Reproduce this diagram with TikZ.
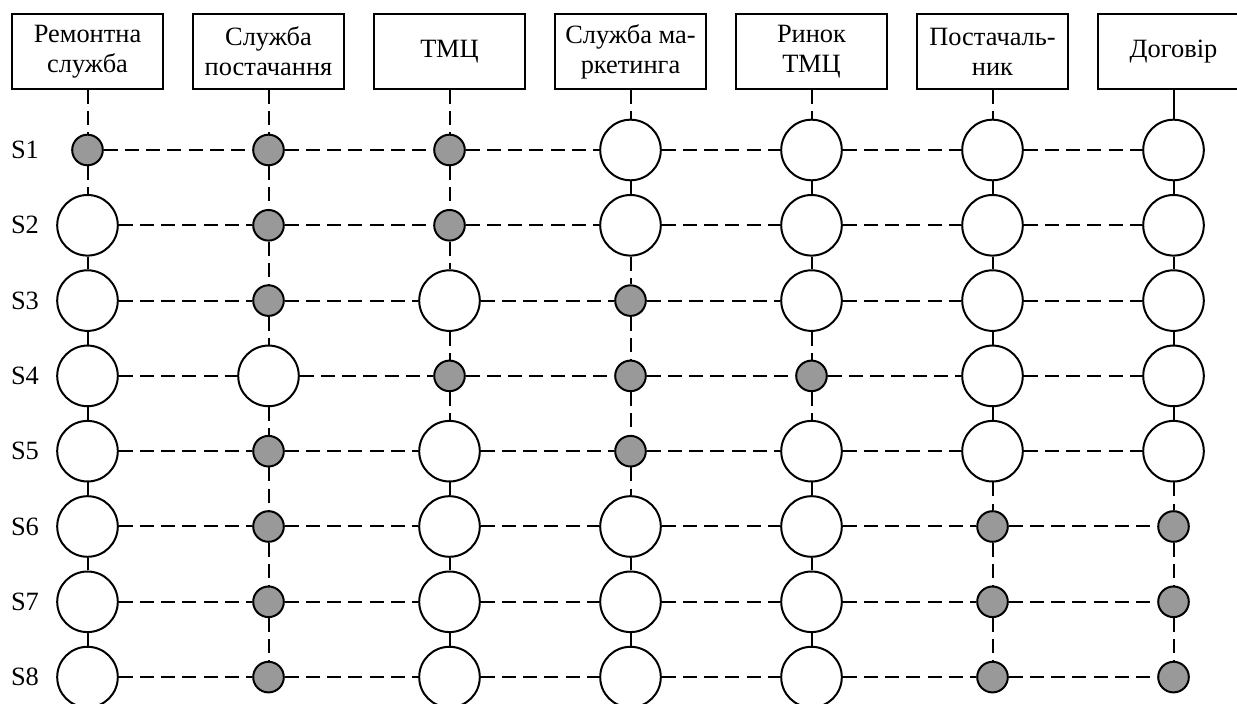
\documentclass[tikz,border=0pt]{standalone}
\usepackage{fontspec}
\setmainfont{Liberation Serif}
\tikzset{
  actor/.style={
    draw,
    line width=1pt,
    minimum width=75.5pt,
    minimum height=37.5pt,
    align=center,
    inner sep=1pt
  },
  cell b/.style={circle, draw, line width=1pt, fill=black!40, minimum size=15.3pt, inner sep=0pt},
  cell f/.style={circle, draw, line width=1pt, fill=white, minimum size=30.3pt, inner sep=0pt},
  hop/.style={line width=1pt, dash pattern=on 7pt off 3.6pt}
}
\begin{document}
\begin{tikzpicture}[x=0.5pt, y=-0.5pt, font=\fontsize{13.2}{15}\selectfont]
  \useasboundingbox (0,0) rectangle (1237,704);
  \foreach \name [count=\j] in {Ремонтна\\служба, Служба\\постачання, ТМЦ, Служба ма-\\ркетинга, Ринок\\ТМЦ, Постачаль-\\ник, Договір}
    \node[actor] (actor-\j) at ({87.5+181*(\j-1)}, 51.5) {\name};
  % b = busy (small, gray), f = free (large, white)
  \foreach \row [count=\i] in {{b,b,b,f,f,f,f}, {f,b,b,f,f,f,f}, {f,b,f,b,f,f,f}, {f,f,b,b,b,f,f},
                              {f,b,f,b,f,f,f}, {f,b,f,f,f,b,b}, {f,b,f,f,f,b,b}, {f,b,f,f,f,b,b}} {
    \node (label-\i) at (25, {150+75.3*(\i-1)}) {S\i};
    \foreach \kind [count=\j] in \row
      \node[cell \kind] (c-\i-\j) at ({87.5+181*(\j-1)}, {150+75.3*(\i-1)}) {};
  }
  \foreach \i in {1,...,8} {
    \foreach \j in {1,...,6} {
      \pgfmathtruncatemacro\k{\j+1}
      \draw[hop] (c-\i-\j) -- (c-\i-\k);
    }
  }
  \foreach \j in {1,...,7} {
    \foreach \i in {1,...,7} {
      \pgfmathtruncatemacro\k{\i+1}
      \draw[hop] (c-\i-\j) -- (c-\k-\j);
    }
  }
  \foreach \j in {1,...,6}
    \draw[hop] (actor-\j) -- (c-1-\j);
  \draw[line width=1pt] (actor-7) -- (c-1-7);
\end{tikzpicture}
\end{document}
